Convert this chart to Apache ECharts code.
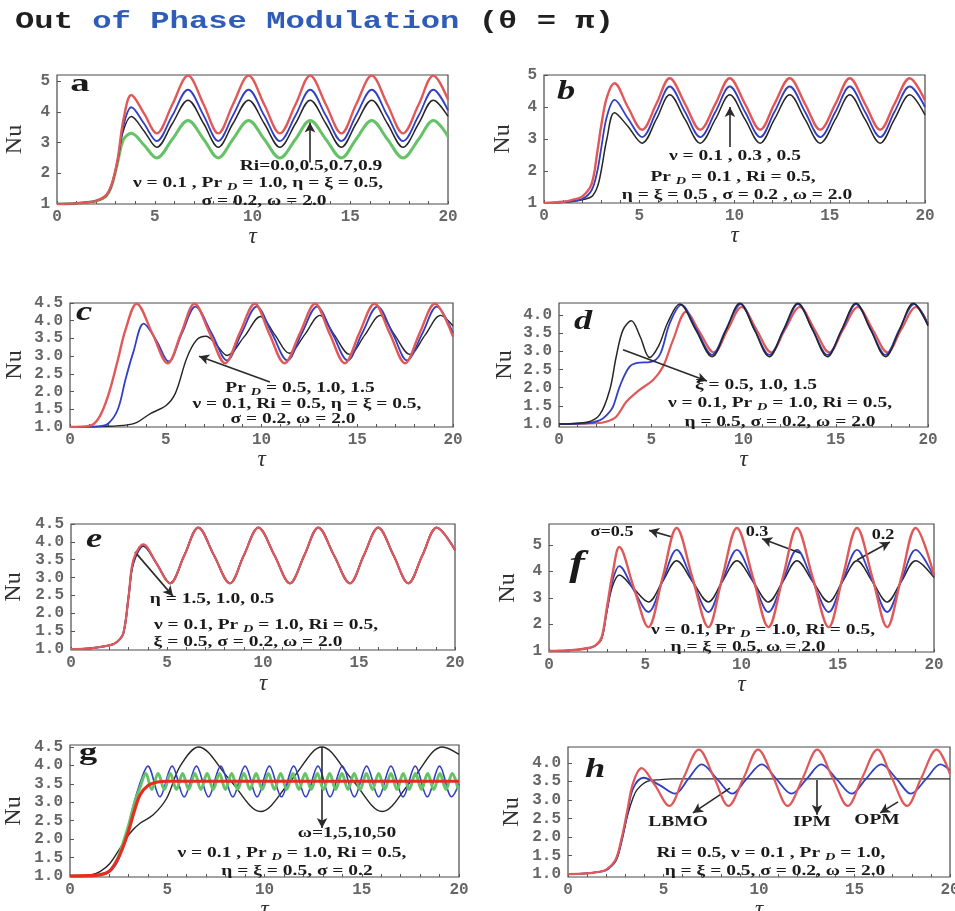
<!DOCTYPE html>
<html><head><meta charset="utf-8">
<script src="https://cdn.jsdelivr.net/npm/echarts@6/dist/echarts.min.js"></script>
<style>html,body{margin:0;padding:0;background:#fff}#c{width:955px;height:911px}</style>
</head><body><div id="c"></div>
<script>
// ---------------- tick labels ----------------
const X_TICKS = [0, 5, 10, 15, 20];
const X_MINOR = [0,1,2,3,4,5,6,7,8,9,10,11,12,13,14,15,16,17,18,19,20];
const Y_TICKS_A = [1, 2, 3, 4, 5];
const Y_TICKS_B = [1, 2, 3, 4, 5];
const Y_TICKS_C = [1.0, 1.5, 2.0, 2.5, 3.0, 3.5, 4.0, 4.5];
const Y_TICKS_D = [1.0, 1.5, 2.0, 2.5, 3.0, 3.5, 4.0];
const Y_TICKS_E = [1.0, 1.5, 2.0, 2.5, 3.0, 3.5, 4.0, 4.5];
const Y_TICKS_F = [1, 2, 3, 4, 5];
const Y_TICKS_G = [1.0, 1.5, 2.0, 2.5, 3.0, 3.5, 4.0, 4.5];
const Y_TICKS_H = [1.0, 1.5, 2.0, 2.5, 3.0, 3.5, 4.0];

// ---------------- panel a (Ri) ----------------
const TAU_A = [0, 1, 1.5, 2, 2.5, 2.8, 3.1, 3.4, 3.8, 4.45, 5.1, 5.9, 6.7, 7.5, 8.25, 9.0, 9.8, 10.6, 11.4, 12.2, 12.95, 13.75, 14.55, 15.3, 16.1, 16.9, 17.7, 18.5, 19.25, 20];
const A_RED   = [1.0, 1.02, 1.05, 1.1, 1.28, 1.65, 2.45, 3.75, 4.55, 3.95, 3.3, 4.24, 5.18, 4.24, 3.3, 4.24, 5.18, 4.24, 3.3, 4.24, 5.18, 4.24, 3.3, 4.24, 5.18, 4.24, 3.3, 4.24, 5.18, 4.4];
const A_BLUE  = [1.0, 1.02, 1.05, 1.1, 1.27, 1.63, 2.42, 3.55, 4.15, 3.62, 3.05, 3.88, 4.72, 3.88, 3.05, 3.88, 4.72, 3.88, 3.05, 3.88, 4.72, 3.88, 3.05, 3.88, 4.72, 3.88, 3.05, 3.88, 4.72, 4.05];
const A_BLACK = [1.0, 1.02, 1.05, 1.1, 1.26, 1.62, 2.4, 3.4, 3.85, 3.38, 2.85, 3.62, 4.38, 3.62, 2.85, 3.62, 4.38, 3.62, 2.85, 3.62, 4.38, 3.62, 2.85, 3.62, 4.38, 3.62, 2.85, 3.62, 4.38, 3.85];
const A_GREEN = [1.0, 1.02, 1.05, 1.1, 1.25, 1.6, 2.35, 3.1, 3.3, 2.92, 2.5, 3.11, 3.72, 3.11, 2.5, 3.11, 3.72, 3.11, 2.5, 3.11, 3.72, 3.11, 2.5, 3.11, 3.72, 3.11, 2.5, 3.11, 3.72, 3.2];

// ---------------- panel b (nu) ----------------
const TAU_B = [0, 1, 1.5, 2, 2.5, 2.8, 3.0, 3.3, 3.7, 4.4, 5.15, 5.9, 6.6, 7.4, 8.2, 9.0, 9.75, 10.55, 11.35, 12.1, 12.9, 13.7, 14.5, 15.3, 16.05, 16.85, 17.65, 18.4, 19.2, 20];
const B_RED   = [1.0, 1.04, 1.1, 1.2, 1.6, 2.6, 3.4, 4.3, 4.74, 4.0, 3.29, 4.1, 4.9, 4.1, 3.29, 4.1, 4.9, 4.1, 3.29, 4.1, 4.9, 4.1, 3.29, 4.1, 4.9, 4.1, 3.29, 4.1, 4.9, 4.2];
const B_BLUE  = [1.0, 1.03, 1.07, 1.12, 1.4, 2.0, 2.7, 3.7, 4.22, 3.65, 3.06, 3.85, 4.64, 3.85, 3.06, 3.85, 4.64, 3.85, 3.06, 3.85, 4.64, 3.85, 3.06, 3.85, 4.64, 3.85, 3.06, 3.85, 4.64, 4.0];
const B_BLACK = [1.0, 1.02, 1.05, 1.1, 1.2, 1.5, 2.0, 3.0, 3.82, 3.4, 2.87, 3.62, 4.38, 3.62, 2.87, 3.62, 4.38, 3.62, 2.87, 3.62, 4.38, 3.62, 2.87, 3.62, 4.38, 3.62, 2.87, 3.62, 4.38, 3.75];

// ---------------- panel c (Pr_D) ----------------
const C_RED_T   = [0, 1, 1.5, 2, 2.5, 2.9, 3.48, 4.3, 5.1, 5.8, 6.5, 7.3, 8.1, 8.85, 9.65, 10.4, 11.2, 12.0, 12.8, 13.55, 14.35, 15.1, 15.9, 16.7, 17.5, 18.25, 19.05, 20];
const C_RED     = [1.0, 1.03, 1.25, 1.9, 2.9, 3.75, 4.48, 3.64, 2.8, 3.64, 4.48, 3.64, 2.8, 3.64, 4.48, 3.64, 2.8, 3.64, 4.48, 3.64, 2.8, 3.64, 4.48, 3.64, 2.8, 3.64, 4.48, 3.55];
const C_BLUE_T  = [0, 1.5, 2, 2.5, 2.9, 3.3, 3.85, 4.5, 5.15, 5.85, 6.55, 7.4, 8.2, 8.95, 9.75, 10.55, 11.35, 12.1, 12.9, 13.7, 14.5, 15.25, 16.05, 16.85, 17.6, 18.4, 19.15, 20];
const C_BLUE    = [1.0, 1.02, 1.1, 1.5, 2.35, 3.1, 3.92, 3.45, 2.85, 3.65, 4.4, 3.64, 2.88, 3.64, 4.4, 3.64, 2.88, 3.64, 4.4, 3.64, 2.88, 3.64, 4.4, 3.64, 2.88, 3.64, 4.4, 3.65];
const C_BLACK_T = [0, 2, 3, 3.5, 4.2, 5.0, 5.5, 6.1, 6.6, 7.1, 7.6, 8.2, 9.1, 9.95, 10.7, 11.45, 12.25, 13.05, 13.8, 14.6, 15.4, 16.2, 16.95, 17.75, 18.55, 19.35, 20];
const C_BLACK   = [1.0, 1.02, 1.06, 1.13, 1.38, 1.6, 1.95, 2.95, 3.45, 3.56, 3.35, 3.02, 3.55, 4.12, 3.6, 3.08, 3.6, 4.15, 3.6, 3.05, 3.6, 4.15, 3.6, 3.05, 3.6, 4.15, 3.85];

// ---------------- panel d (xi) ----------------
const D_BLACK_T = [0, 1.5, 2.2, 2.75, 3.1, 3.47, 3.92, 4.4, 4.91, 5.4, 5.9, 6.54, 7.4, 8.3, 9.05, 9.8, 10.6, 11.4, 12.15, 12.95, 13.75, 14.55, 15.3, 16.1, 16.9, 17.7, 18.45, 19.2, 20];
const D_BLACK   = [1.0, 1.05, 1.25, 1.94, 2.85, 3.59, 3.84, 3.4, 2.83, 3.15, 3.8, 4.3, 3.6, 2.85, 3.58, 4.32, 3.58, 2.85, 3.58, 4.32, 3.58, 2.85, 3.58, 4.32, 3.58, 2.85, 3.58, 4.32, 3.7];
const D_BLUE_T  = [0, 1.5, 2.2, 2.6, 2.93, 3.29, 3.83, 4.37, 4.91, 5.46, 6.0, 6.63, 7.45, 8.3, 9.05, 9.85, 10.6, 11.4, 12.2, 12.95, 13.75, 14.55, 15.35, 16.1, 16.9, 17.7, 18.45, 19.25, 20];
const D_BLUE    = [1.0, 1.02, 1.1, 1.25, 1.48, 2.03, 2.58, 2.69, 2.7, 2.9, 3.77, 4.28, 3.6, 2.9, 3.6, 4.3, 3.6, 2.9, 3.6, 4.3, 3.6, 2.9, 3.6, 4.3, 3.6, 2.9, 3.6, 4.3, 3.75];
const D_RED_T   = [0, 2, 2.6, 3.1, 3.65, 4.37, 5.1, 5.64, 6.18, 6.9, 7.6, 8.4, 9.15, 9.9, 10.7, 11.5, 12.25, 13.05, 13.85, 14.65, 15.4, 16.2, 17.0, 17.8, 18.55, 19.35, 20];
const D_RED     = [1.0, 1.02, 1.07, 1.2, 1.61, 1.94, 2.21, 2.58, 3.31, 4.09, 3.55, 2.97, 3.6, 4.22, 3.6, 2.97, 3.6, 4.22, 3.6, 2.97, 3.6, 4.22, 3.6, 2.97, 3.6, 4.22, 3.75];

// ---------------- panel e (eta) ----------------
const TAU_E = [0, 1, 2, 2.4, 2.73, 3.0, 3.25, 3.77, 4.45, 5.16, 5.9, 6.63, 7.45, 8.28, 9.0, 9.76, 10.6, 11.4, 12.15, 12.88, 13.7, 14.53, 15.25, 16.0, 16.8, 17.57, 18.3, 19.05, 20];
const E_RED   = [1.0, 1.02, 1.1, 1.2, 1.45, 2.47, 3.5, 3.93, 3.4, 2.84, 3.62, 4.4, 3.62, 2.84, 3.62, 4.4, 3.62, 2.84, 3.62, 4.4, 3.62, 2.84, 3.62, 4.4, 3.62, 2.84, 3.62, 4.4, 3.77];
const E_BLUE  = [1.0, 1.02, 1.1, 1.2, 1.45, 2.47, 3.45, 3.9, 3.4, 2.84, 3.62, 4.4, 3.62, 2.84, 3.62, 4.4, 3.62, 2.84, 3.62, 4.4, 3.62, 2.84, 3.62, 4.4, 3.62, 2.84, 3.62, 4.4, 3.77];
const E_BLACK = [1.0, 1.02, 1.1, 1.2, 1.45, 2.47, 3.4, 3.88, 3.4, 2.84, 3.62, 4.4, 3.62, 2.84, 3.62, 4.4, 3.62, 2.84, 3.62, 4.4, 3.62, 2.84, 3.62, 4.4, 3.62, 2.84, 3.62, 4.4, 3.77];

// ---------------- panel f (sigma) ----------------
const TAU_F = [0, 1, 2, 2.4, 2.73, 3.0, 3.3, 3.65, 4.4, 5.16, 5.9, 6.63, 7.45, 8.28, 9.0, 9.76, 10.6, 11.4, 12.15, 12.88, 13.7, 14.53, 15.25, 16.0, 16.8, 17.57, 18.3, 19.05, 20];
const F_RED   = [1.0, 1.02, 1.1, 1.2, 1.5, 2.6, 3.9, 4.92, 3.4, 1.9, 3.77, 5.64, 3.77, 1.9, 3.77, 5.64, 3.77, 1.9, 3.77, 5.64, 3.77, 1.9, 3.77, 5.64, 3.77, 1.9, 3.77, 5.64, 3.85];
const F_BLUE  = [1.0, 1.02, 1.1, 1.2, 1.47, 2.5, 3.65, 4.2, 3.3, 2.47, 3.64, 4.81, 3.64, 2.47, 3.64, 4.81, 3.64, 2.47, 3.64, 4.81, 3.64, 2.47, 3.64, 4.81, 3.64, 2.47, 3.64, 4.81, 3.8];
const F_BLACK = [1.0, 1.02, 1.1, 1.2, 1.45, 2.47, 3.45, 3.87, 3.35, 2.85, 3.62, 4.4, 3.62, 2.85, 3.62, 4.4, 3.62, 2.85, 3.62, 4.4, 3.62, 2.85, 3.62, 4.4, 3.62, 2.85, 3.62, 4.4, 3.77];

// ---------------- panel g (omega) ----------------
const G_BLACK_T = [0, 1, 1.54, 2.05, 2.57, 3.08, 3.6, 4.28, 4.97, 5.65, 6.6, 8.2, 9.8, 11.4, 12.95, 14.5, 16.05, 17.6, 19.15, 20];
const G_BLACK   = [1.0, 1.02, 1.12, 1.34, 1.75, 2.16, 2.43, 2.66, 3.11, 3.97, 4.5, 3.62, 2.75, 3.62, 4.5, 3.62, 2.75, 3.62, 4.5, 4.3];
const G_BLUE_T  = [0, 1, 1.5, 2.0, 2.4, 2.7, 3.0, 3.3, 3.65, 4.0, 4.62, 5.25, 5.87, 6.5, 7.12, 7.75, 8.37, 9.0, 9.62, 10.25, 10.87, 11.5, 12.12, 12.75, 13.37, 14.0, 14.62, 15.25, 15.87, 16.5, 17.12, 17.75, 18.37, 19.0, 19.62, 20];
const G_BLUE    = [1.0, 1.01, 1.03, 1.1, 1.35, 1.8, 2.35, 3.0, 3.6, 3.98, 3.15, 3.98, 3.15, 3.98, 3.15, 3.98, 3.15, 3.98, 3.15, 3.98, 3.15, 3.98, 3.15, 3.98, 3.15, 3.98, 3.15, 3.98, 3.15, 3.98, 3.15, 3.98, 3.15, 3.98, 3.15, 3.5];
const G_GREEN_T = [0, 1, 1.5, 2.0, 2.4, 2.7, 3.0, 3.3, 3.6, 3.9, 4.2, 4.53, 4.85, 5.16, 5.47, 5.79, 6.1, 6.42, 6.73, 7.05, 7.36, 7.68, 7.99, 8.31, 8.62, 8.94, 9.25, 9.57, 9.88, 10.2, 10.51, 10.83, 11.14, 11.46, 11.77, 12.09, 12.4, 12.72, 13.03, 13.35, 13.66, 13.98, 14.29, 14.61, 14.92, 15.24, 15.55, 15.87, 16.18, 16.5, 16.81, 17.13, 17.44, 17.76, 18.07, 18.39, 18.7, 19.02, 19.33, 19.65, 19.96];
const G_GREEN   = [1.0, 1.01, 1.03, 1.12, 1.42, 1.85, 2.35, 2.95, 3.4, 3.78, 3.35, 3.78, 3.35, 3.78, 3.35, 3.78, 3.35, 3.78, 3.35, 3.78, 3.35, 3.78, 3.35, 3.78, 3.35, 3.78, 3.35, 3.78, 3.35, 3.78, 3.35, 3.78, 3.35, 3.78, 3.35, 3.78, 3.35, 3.78, 3.35, 3.78, 3.35, 3.78, 3.35, 3.78, 3.35, 3.78, 3.35, 3.78, 3.35, 3.78, 3.35, 3.78, 3.35, 3.78, 3.35, 3.78, 3.35, 3.78, 3.35, 3.78, 3.35];
const G_RED_T   = [0, 1, 1.5, 2.0, 2.4, 2.7, 3.0, 3.3, 3.6, 4.0, 4.5, 5.0, 20];
const G_RED     = [1.0, 1.01, 1.03, 1.12, 1.4, 1.75, 2.2, 2.75, 3.2, 3.45, 3.55, 3.57, 3.57];

// ---------------- panel h (LBMO / IPM / OPM) ----------------
const H_BLACK_T = [0, 1, 1.5, 2.0, 2.5, 2.8, 3.1, 3.4, 3.62, 4.15, 4.84, 5.5, 20];
const H_BLACK   = [1.0, 1.02, 1.05, 1.12, 1.35, 1.85, 2.55, 3.05, 3.28, 3.5, 3.55, 3.57, 3.57];
const H_RED_T   = [0, 1, 1.5, 2.0, 2.5, 2.8, 3.1, 3.4, 3.85, 4.55, 5.3, 6.05, 6.85, 7.65, 8.4, 9.2, 9.95, 10.75, 11.5, 12.3, 13.05, 13.85, 14.65, 15.4, 16.2, 16.95, 17.75, 18.5, 19.3, 20];
const H_RED     = [1.0, 1.02, 1.05, 1.12, 1.4, 1.95, 2.7, 3.45, 3.86, 3.4, 2.84, 3.6, 4.36, 3.6, 2.84, 3.6, 4.36, 3.6, 2.84, 3.6, 4.36, 3.6, 2.84, 3.6, 4.36, 3.6, 2.84, 3.6, 4.36, 3.7];
const H_BLUE_T  = [0, 1, 1.5, 2.0, 2.5, 2.8, 3.1, 3.4, 3.95, 4.8, 5.6, 6.3, 7.0, 7.8, 8.6, 9.35, 10.15, 10.9, 11.7, 12.5, 13.25, 14.05, 14.85, 15.6, 16.4, 17.2, 17.95, 18.75, 19.5, 20];
const H_BLUE    = [1.0, 1.02, 1.05, 1.1, 1.38, 1.9, 2.6, 3.3, 3.6, 3.4, 3.17, 3.57, 3.96, 3.57, 3.17, 3.57, 3.96, 3.57, 3.17, 3.57, 3.96, 3.57, 3.17, 3.57, 3.96, 3.57, 3.17, 3.57, 3.96, 3.8];

// ---------------- layout / styles ----------------
const RED = '#e05858', BLUE = '#3140c4', BLACK = '#262626', GREEN = '#66c266';
const PANELS = [
  {left:57,  top:75,  width:391, height:129, ymin:1,     ymax:5.2,   yTicks:Y_TICKS_A, dec:0, yGap:31, xGap:18,
   arrows:[[[12.94,2.35],[12.94,3.65]]]},
  {left:544, top:75,  width:381, height:128, ymin:1,     ymax:5,     yTicks:Y_TICKS_B, dec:0, yGap:30, xGap:20,
   arrows:[[[9.76,2.75],[9.76,4.0]]]},
  {left:70,  top:303, width:383, height:124, ymin:1,     ymax:4.5,   yTicks:Y_TICKS_C, dec:1, yGap:44, xGap:20,
   arrows:[[[10.44,2.27],[6.74,3.0]]]},
  {left:559, top:303, width:369, height:124, ymin:0.917, ymax:4.33,  yTicks:Y_TICKS_D, dec:1, yGap:43, xGap:20,
   arrows:[[[3.47,3.04],[8.02,2.18]]]},
  {left:71,  top:524, width:384, height:126, ymin:0.972, ymax:4.5,   yTicks:Y_TICKS_E, dec:1, yGap:46, xGap:22,
   arrows:[[[3.33,3.72],[5.31,2.48]]]},
  {left:549, top:524, width:385, height:128, ymin:0.96,  ymax:5.79,  yTicks:Y_TICKS_F, dec:0, yGap:30, xGap:20,
   arrows:[[[6.4,5.3],[5.2,5.55]], [[13.04,4.7],[11.07,5.23]], [[16.0,4.43],[17.71,5.11]]]},
  {left:70,  top:745, width:389, height:132, ymin:0.973, ymax:4.554, yTicks:Y_TICKS_G, dec:1, yGap:45, xGap:18,
   arrows:[[[12.96,4.5],[12.96,2.3]]]},
  {left:568, top:747, width:382, height:130, ymin:0.92,  ymax:4.43,  yTicks:Y_TICKS_H, dec:1, yGap:45, xGap:18,
   arrows:[[[8.48,3.32],[6.54,2.65]], [[13.04,3.54],[13.04,2.6]], [[17.28,2.95],[16.34,2.65]]]}
];

const grids = [], xAxes = [], yAxes = [], series = [];
PANELS.forEach((p, i) => {
  grids.push({left:p.left, top:p.top, width:p.width, height:p.height, show:true,
    borderColor:'#4a4a4a', borderWidth:1.2, containLabel:false, outerBoundsMode:'none'});
  xAxes.push({type:'value', gridIndex:i, min:0, max:20,
    axisLine:{show:false}, splitLine:{show:false},
    axisTick:{show:true, inside:true, length:3, customValues:X_MINOR, lineStyle:{color:'#555'}},
    axisLabel:{customValues:X_TICKS, fontFamily:'Liberation Mono', fontWeight:'bold', fontSize:16, color:'#666', margin:5},
    name:'τ', nameLocation:'middle', nameGap:p.xGap,
    nameTextStyle:{fontFamily:'Liberation Serif', fontStyle:'italic', fontSize:23, color:'#333'}});
  yAxes.push({type:'value', gridIndex:i, min:p.ymin, max:p.ymax,
    axisLine:{show:false}, splitLine:{show:false},
    axisTick:{show:true, inside:true, length:4, customValues:p.yTicks, lineStyle:{color:'#555'}},
    axisLabel:{customValues:p.yTicks, fontFamily:'Liberation Mono', fontWeight:'bold', fontSize:16, color:'#666', margin:7,
      formatter:(v)=>Number(v).toFixed(p.dec)},
    name:'Nu', nameLocation:'middle', nameRotate:90, nameGap:p.yGap - 1,
    nameTextStyle:{fontFamily:'Liberation Serif', fontSize:24, color:'#333'}});
});

function pairs(t, v){ return t.map((x, k) => [x, v[k]]); }
function addLine(pi, t, v, color, width, z, arrows){
  const s = {type:'line', xAxisIndex:pi, yAxisIndex:pi, data:pairs(t, v), showSymbol:false, symbol:'none',
    smooth:0.35, clip:true, silent:true, animation:false, z:z,
    lineStyle:{color:color, width:width}, itemStyle:{color:color}};
  if (arrows) {
    s.markLine = {silent:true, symbol:['none','arrow'], symbolSize:[8,10], animation:false,
      label:{show:false}, lineStyle:{color:'#2a2a2a', width:1.6, type:'solid'},
      data: arrows.map(a => [{coord:a[0]}, {coord:a[1]}])};
  }
  series.push(s);
}

// a
addLine(0, TAU_A, A_GREEN, GREEN, 3, 2);
addLine(0, TAU_A, A_BLACK, BLACK, 1.5, 3);
addLine(0, TAU_A, A_BLUE, BLUE, 1.8, 4);
addLine(0, TAU_A, A_RED, RED, 2.4, 5, PANELS[0].arrows);
// b
addLine(1, TAU_B, B_BLACK, BLACK, 1.5, 3);
addLine(1, TAU_B, B_BLUE, BLUE, 1.8, 4);
addLine(1, TAU_B, B_RED, RED, 2.4, 5, PANELS[1].arrows);
// c
addLine(2, C_BLACK_T, C_BLACK, BLACK, 1.4, 3);
addLine(2, C_BLUE_T, C_BLUE, BLUE, 1.8, 4);
addLine(2, C_RED_T, C_RED, RED, 2.4, 5, PANELS[2].arrows);
// d
addLine(3, D_RED_T, D_RED, RED, 2.2, 3);
addLine(3, D_BLUE_T, D_BLUE, BLUE, 1.8, 4);
addLine(3, D_BLACK_T, D_BLACK, BLACK, 1.5, 5, PANELS[3].arrows);
// e
addLine(4, TAU_E, E_BLACK, BLACK, 1.8, 3);
addLine(4, TAU_E, E_BLUE, BLUE, 1.8, 4);
addLine(4, TAU_E, E_RED, RED, 2.2, 5, PANELS[4].arrows);
// f
addLine(5, TAU_F, F_BLACK, BLACK, 1.5, 3);
addLine(5, TAU_F, F_BLUE, BLUE, 1.8, 4);
addLine(5, TAU_F, F_RED, RED, 2.4, 5, PANELS[5].arrows);
// g
addLine(6, G_BLACK_T, G_BLACK, BLACK, 1.4, 3);
addLine(6, G_BLUE_T, G_BLUE, BLUE, 1.6, 4);
addLine(6, G_GREEN_T, G_GREEN, GREEN, 3, 5);
addLine(6, G_RED_T, G_RED, '#e82a22', 3.2, 6, PANELS[6].arrows);
// h
addLine(7, H_BLACK_T, H_BLACK, BLACK, 1.4, 3);
addLine(7, H_BLUE_T, H_BLUE, BLUE, 1.8, 4);
addLine(7, H_RED_T, H_RED, RED, 2.2, 5, PANELS[7].arrows);

// ---------------- text annotations ----------------
const SUB = {fontSize:11, fontStyle:'italic', fontWeight:'bold', fontFamily:'Liberation Serif', lineHeight:11, verticalAlign:'bottom', fill:'#1a1a1a'};
function T(x, y, text, o){
  o = o || {};
  return {type:'text', x:x, y:y, scaleX:(o.sx || 1.3), z:100, silent:true,
    style:{text:text, fill:(o.fill || '#1a1a1a'), fontFamily:(o.family || 'Liberation Serif'),
      fontWeight:(o.weight || 'bold'), fontStyle:(o.fstyle || 'normal'), fontSize:(o.size || 15), lineHeight:(o.lh || 20),
      align:(o.align || 'center'), verticalAlign:'middle', textAlign:(o.align || 'center'), textVerticalAlign:'middle',
      rich:(o.rich || {d:SUB})}};
}
const graphics = [
  T(15, 22, '{k|Out} {b|of Phase Modulation} {k|(θ = π)}', {align:'left', sx:1.4, family:'Liberation Mono', size:23, lh:26,
    rich:{k:{fill:'#1f1f1f', fontFamily:'Liberation Mono', fontWeight:'bold', fontSize:23},
          b:{fill:'#2f5cb8', fontFamily:'Liberation Mono', fontWeight:'bold', fontSize:23}}}),
  // panel letters
  T(80, 84, 'a', {size:26, sx:1.5}),
  T(566, 92, 'b', {size:28, fstyle:'italic', sx:1.3}),
  T(84, 313, 'c', {size:28, fstyle:'italic', sx:1.3}),
  T(583, 322, 'd', {size:28, fstyle:'italic', sx:1.3}),
  T(94, 540, 'e', {size:28, fstyle:'italic', sx:1.3}),
  T(577, 566, 'f', {size:36, fstyle:'italic', sx:1.3}),
  T(88, 753, 'g', {size:26, sx:1.4}),
  T(595, 770, 'h', {size:28, fstyle:'italic', sx:1.3}),
  // a
  T(311, 166, 'Ri=0.0,0.5,0.7,0.9'),
  T(258, 183, 'ν = 0.1 , Pr {d|D} = 1.0, η = ξ = 0.5,'),
  T(264, 201, 'σ = 0.2, ω = 2.0'),
  // b
  T(735, 156, 'ν = 0.1 , 0.3 , 0.5'),
  T(733, 177, 'Pr {d|D} = 0.1 , Ri = 0.5,'),
  T(737, 195, 'η = ξ = 0.5 , σ = 0.2 , ω = 2.0'),
  // c
  T(300, 388, 'Pr {d|D} = 0.5, 1.0, 1.5'),
  T(307, 404, 'ν = 0.1, Ri = 0.5, η = ξ = 0.5,'),
  T(293, 419, 'σ = 0.2, ω = 2.0'),
  // d
  T(756, 385, 'ξ = 0.5, 1.0, 1.5'),
  T(780, 403, 'ν = 0.1, Pr {d|D} = 1.0, Ri = 0.5,'),
  T(780, 422, 'η = 0.5, σ = 0.2, ω = 2.0'),
  // e
  T(212, 599, 'η = 1.5, 1.0, 0.5'),
  T(266, 625, 'ν = 0.1, Pr {d|D} = 1.0, Ri = 0.5,'),
  T(248, 642, 'ξ = 0.5, σ = 0.2, ω = 2.0'),
  // f
  T(612, 532, 'σ=0.5', {size:14}),
  T(757, 532, '0.3', {size:14}),
  T(883, 535, '0.2', {size:14}),
  T(763, 630, 'ν = 0.1, Pr {d|D} = 1.0, Ri = 0.5,'),
  T(748, 647, 'η = ξ = 0.5, ω = 2.0'),
  // g
  T(347, 833, 'ω=1,5,10,50'),
  T(292, 853, 'ν = 0.1 , Pr {d|D} = 1.0, Ri = 0.5,'),
  T(297, 871, 'η = ξ = 0.5, σ = 0.2'),
  // h
  T(678, 822, 'LBMO'),
  T(812, 822, 'IPM'),
  T(877, 820, 'OPM'),
  T(771, 853, 'Ri = 0.5, ν = 0.1 , Pr {d|D} = 1.0,'),
  T(775, 871, 'η = ξ = 0.5, σ = 0.2, ω = 2.0')
];

const chart = echarts.init(document.getElementById('c'), null, {width:955, height:911, renderer:'canvas'});
chart.setOption({
  animation:false,
  backgroundColor:'#ffffff',
  grid:grids, xAxis:xAxes, yAxis:yAxes, series:series,
  graphic:graphics
});
</script>
</body></html>
